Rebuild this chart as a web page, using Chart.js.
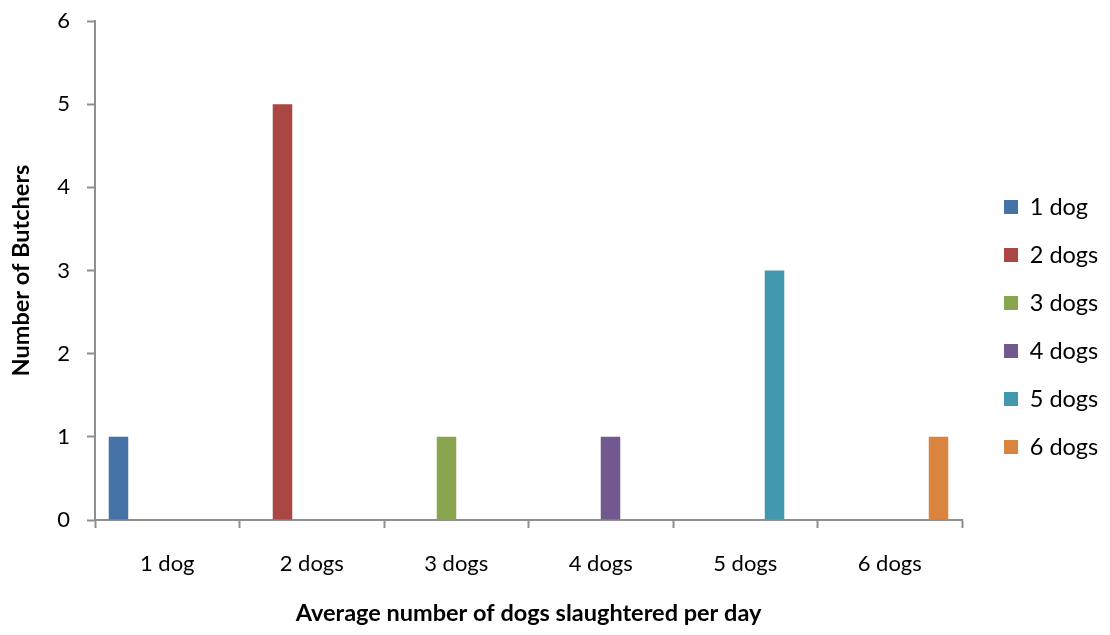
<!DOCTYPE html>
<html>
<head>
<meta charset="utf-8">
<script src="https://cdn.jsdelivr.net/npm/chart.js@4/dist/chart.umd.min.js"></script>
<style>
  html, body { margin: 0; padding: 0; background: #ffffff; }
  #wrap { width: 1110px; height: 635px; }
</style>
</head>
<body>
<div id="wrap"><canvas id="chart" width="1110" height="635"></canvas></div>
<script>
// Categories on the x axis and one series per category
const categories = ['1 dog', '2 dogs', '3 dogs', '4 dogs', '5 dogs', '6 dogs'];
const seriesNames = ['1 dog', '2 dogs', '3 dogs', '4 dogs', '5 dogs', '6 dogs'];
const butchers = [1, 5, 1, 1, 3, 1];
const seriesColors = ['#4572A7', '#AA4643', '#89A54E', '#71588F', '#4198AF', '#DB843D'];
const yTicks = [0, 1, 2, 3, 4, 5, 6];

const xTitle = 'Average number of dogs slaughtered per day';
const yTitle = 'Number of Butchers';

const FONT = "Lato, 'Open Sans', 'Liberation Sans', sans-serif";
const AXIS = '#8f8f8f';

// each series only has a value in its own category; other slots stay empty
const datasets = seriesNames.map((name, i) => ({
  label: name,
  data: categories.map((_, j) => (j === i ? butchers[i] : null)),
  backgroundColor: seriesColors[i],
  borderWidth: 0,
  categoryPercentage: 0.81,
  barPercentage: 1.0
}));

// fixed-width legend column, placed beside the plot
const legendPlacement = {
  id: 'legendPlacement',
  afterInit(chart) {
    const lg = chart.legend;
    const origFit = lg.fit.bind(lg);
    lg.fit = function () { origFit(); this.width = 148; };
  },
  afterLayout(chart) {
    const lg = chart.legend;
    const pad = lg.options.labels.padding;
    const w = lg.width, h = lg.height;
    lg.left = 1004 - pad;
    lg.right = lg.left + w;
    lg.top = 195.25 - pad;
    lg.bottom = lg.top + h;
  }
};

new Chart(document.getElementById('chart'), {
  type: 'bar',
  data: { labels: categories, datasets },
  plugins: [legendPlacement],
  options: {
    responsive: false,
    animation: false,
    layout: { padding: { top: 21, left: 0, right: 0, bottom: 2 } },
    plugins: {
      tooltip: { enabled: false },
      legend: {
        position: 'right',
        align: 'start',
        labels: {
          boxWidth: 14,
          boxHeight: 14,
          padding: 24.5,
          color: '#000',
          font: { family: FONT, size: 23.5 }
        }
      }
    },
    scales: {
      x: {
        afterFit(scale) { scale.height = 113; },
        grid: {
          display: true,
          drawOnChartArea: false,
          drawTicks: true,
          tickLength: 8,
          tickWidth: 2,
          tickColor: AXIS,
          offset: true
        },
        border: { display: true, color: AXIS, width: 2 },
        ticks: {
          color: '#000',
          padding: 23,
          maxRotation: 0,
          font: { family: FONT, size: 22 }
        },
        title: {
          display: true,
          text: xTitle,
          color: '#000',
          padding: { top: 0, bottom: 5 },
          font: { family: FONT, size: 23.5, weight: 'bold' }
        }
      },
      y: {
        min: 0,
        max: 6,
        afterFit(scale) {
          scale.width = 95;
          // the plot edges are set by the layout padding, not by label overhang
          scale.paddingTop = 0;
          scale.paddingBottom = 0;
        },
        afterBuildTicks(scale) { scale.ticks = yTicks.map(v => ({ value: v })); },
        grid: {
          display: true,
          drawOnChartArea: false,
          drawTicks: true,
          tickLength: 8,
          tickWidth: 2,
          tickColor: AXIS
        },
        border: { display: true, color: AXIS, width: 2 },
        ticks: {
          color: '#000',
          padding: 17,
          font: { family: FONT, size: 22 }
        },
        title: {
          display: true,
          text: yTitle,
          color: '#000',
          padding: { top: 7, bottom: 0 },
          font: { family: FONT, size: 23.5, weight: 'bold' }
        }
      }
    }
  }
});
</script>
</body>
</html>
